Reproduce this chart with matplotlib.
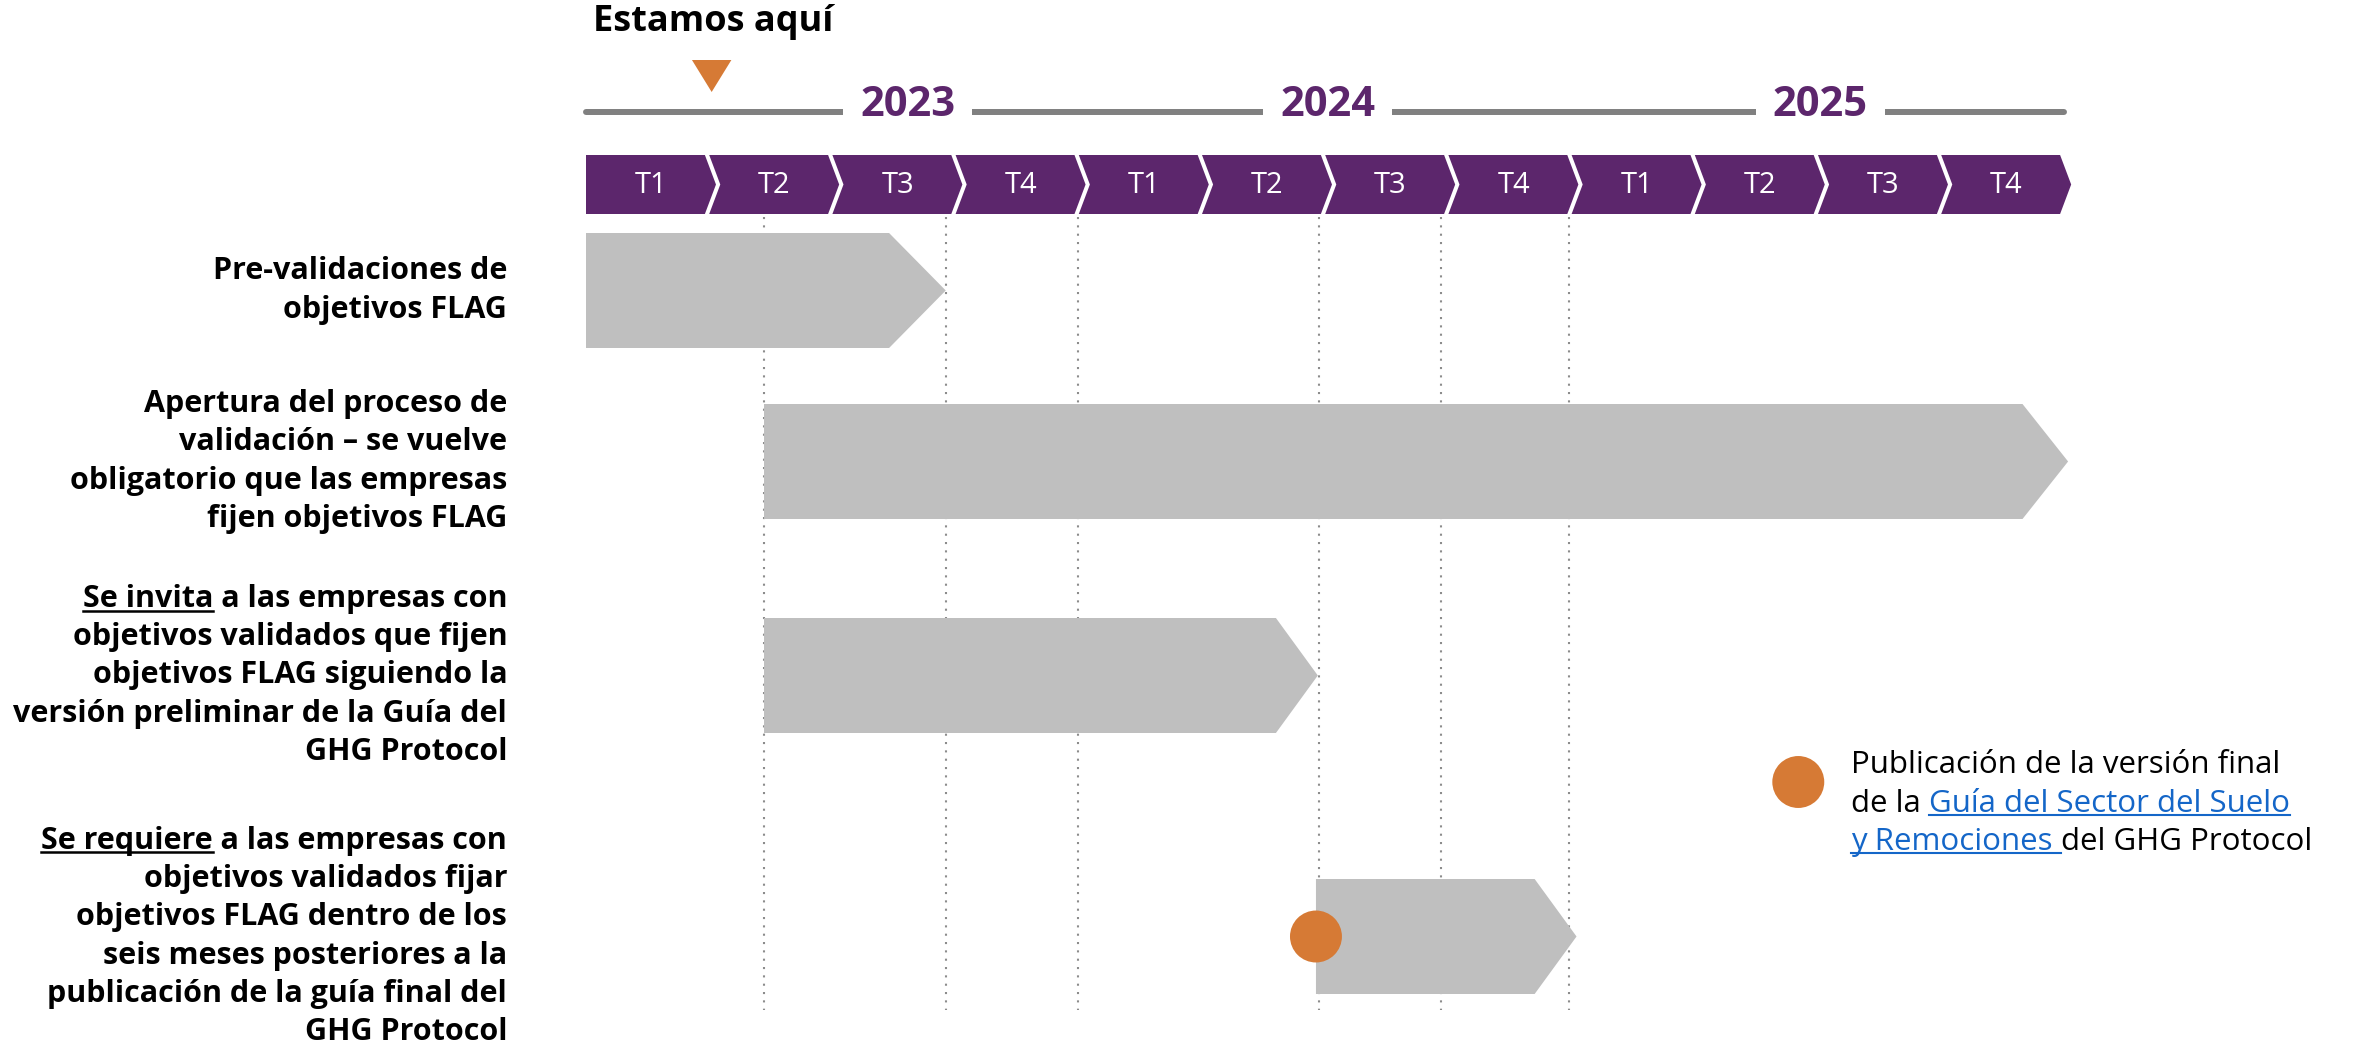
"""FLAG target timeline (2023-2025) recreated with matplotlib patches."""

import matplotlib
matplotlib.use("Agg")
import matplotlib.pyplot as plt
from matplotlib.patches import Polygon
from matplotlib.lines import Line2D

plt.rcParams["font.family"] = ["Open Sans", "DejaVu Sans"]

# ---- data -------------------------------------------------------------
years = ["2023", "2024", "2025"]
year_label_q = [2.61, 6.02, 10.02]       # where each year label sits (quarters)
quarters = ["T1", "T2", "T3", "T4"] * 3
now_q = 1.02                              # "Estamos aquí"

task_lines = [
    ["Pre-validaciones de", "objetivos FLAG"],
    ["Apertura del proceso de", "validación – se vuelve",
     "obligatorio que las empresas", "fijen objetivos FLAG"],
    ["Se invita a las empresas con", "objetivos validados que fijen",
     "objetivos FLAG siguiendo la", "versión preliminar de la Guía del",
     "GHG Protocol"],
    ["Se requiere a las empresas con", "objetivos validados fijar",
     "objetivos FLAG dentro de los", "seis meses posteriores a la",
     "publicación de la guía final del", "GHG Protocol"],
]
task_underline = [None, None, "Se invita", "Se requiere"]
task_start = [0.0, 1.445, 1.445, 5.925]
task_end = [2.92, 12.03, 5.94, 8.04]

guide_q = [1.445, 2.92, 3.99, 5.95, 6.94, 7.98]
milestone_q = 5.925
milestone_lines = [
    [("Publicación de la versión final", False)],
    [("de la ", False), ("Guía del Sector del Suelo", True)],
    [("y Remociones ", True), ("del GHG Protocol", False)],
]

# ---- style / layout ---------------------------------------------------
PURPLE = "#5C266C"
GREY_BAR = "#BFBFBF"
GREY_LINE = "#808080"
ORANGE = "#D67A35"
LINK = "#1466C8"

W, H = 2354, 1046
X0_PX, PX_PER_Q = 586, 123.2
row_y = [290.5, 461.5, 675.5, 936.5]
BAR_HALF = 57.5
tip_q = [0.46, 0.37, 0.34, 0.34]
LINE_STEP = 38.2
LABEL_X = -0.64
FS_LABEL = 22
FS_NOTE = 22.5

fig = plt.figure(figsize=(W / 100, H / 100), dpi=100)
ax = fig.add_axes([0, 0, 1, 1])
ax.set_xlim(-X0_PX / PX_PER_Q, (W - X0_PX) / PX_PER_Q)
ax.set_ylim(H, 0)
ax.axis("off")

# year line with white gaps behind the year labels
ax.plot([0, 12.0], [112, 112], color=GREY_LINE, lw=4.3,
        solid_capstyle="round", zorder=1)
for q, yr in zip(year_label_q, years):
    ax.text(q, 106, yr, ha="center", va="center", fontsize=30,
            fontweight="bold", color=PURPLE, zorder=2,
            bbox=dict(facecolor="white", edgecolor="none", pad=12))

# "Estamos aquí" marker
ax.text(0.06, 22, "Estamos aquí", ha="left", va="center", fontsize=26,
        fontweight="bold", color="black")
ax.add_patch(Polygon([(now_q - 0.16, 60), (now_q + 0.16, 60), (now_q, 92)],
                     closed=True, facecolor=ORANGE, edgecolor="none"))

# quarter chevrons
top, bot = 155, 214
mid = (top + bot) / 2
for i, lab in enumerate(quarters):
    pts = [(i, top), (i + 0.965, top), (i + 1.055, mid), (i + 0.965, bot),
           (i, bot)]
    if i > 0:
        pts.append((i + 0.09, mid))
    ax.add_patch(Polygon(pts, closed=True, facecolor=PURPLE, edgecolor="none",
                         zorder=2))
    ax.text(i + 0.53, mid + 1, lab, ha="center", va="center", fontsize=21,
            color="white", zorder=3)

# dotted guides
for q in guide_q:
    ax.plot([q, q], [217, 1010], color="#8C8C8C", lw=1.5,
            linestyle=(0, (1, 3)), zorder=1)

# task bars
for k, (s, e) in enumerate(zip(task_start, task_end)):
    yc = row_y[k]
    pts = [(s, yc - BAR_HALF), (e - tip_q[k], yc - BAR_HALF), (e, yc),
           (e - tip_q[k], yc + BAR_HALF), (s, yc + BAR_HALF)]
    ax.add_patch(Polygon(pts, closed=True, facecolor=GREY_BAR,
                         edgecolor="none", zorder=2))

# milestone dot
ax.scatter([milestone_q], [row_y[3]], s=37.4 ** 2, color=ORANGE,
           edgecolors="none", zorder=4)

# task labels
fig.canvas.draw()
renderer = fig.canvas.get_renderer()
inv = ax.transData.inverted()
for k, lines in enumerate(task_lines):
    n = len(lines)
    for j, line in enumerate(lines):
        y = row_y[k] + (j - (n - 1) / 2) * LINE_STEP
        t = ax.text(LABEL_X, y, line, ha="right", va="center",
                    fontsize=FS_LABEL, fontweight="bold", color="black")
        if j == 0 and task_underline[k]:
            bb = t.get_window_extent(renderer)
            probe = ax.text(0, 0, task_underline[k], fontsize=FS_LABEL,
                            fontweight="bold")
            w = probe.get_window_extent(renderer).width
            probe.remove()
            uy = bb.y0 + 0.12 * bb.height
            (x1, y1), (x2, _) = inv.transform([(bb.x0, uy), (bb.x0 + w, uy)])
            ax.add_line(Line2D([x1, x2], [y1, y1], color="black", lw=1.8))

# milestone legend
ax.scatter([9.84], [782], s=37.4 ** 2, color=ORANGE, edgecolors="none")
for j, parts in enumerate(milestone_lines):
    y = 765 + j * 38.5
    prev = None
    for txt, is_link in parts:
        col = LINK if is_link else "black"
        if prev is None:
            t = ax.text(10.27, y, txt, ha="left", va="center",
                        fontsize=FS_NOTE, color=col)
        else:
            t = ax.annotate(txt, xy=(1, 0), xycoords=prev, ha="left",
                            va="bottom", fontsize=FS_NOTE, color=col)
        fig.canvas.draw()
        if is_link:
            bb = t.get_window_extent(renderer)
            uy = bb.y0 + 0.12 * bb.height
            (x1, y1), (x2, _) = inv.transform([(bb.x0, uy), (bb.x1, uy)])
            ax.add_line(Line2D([x1, x2], [y1, y1], color=LINK, lw=1.5))
        prev = t

fig.savefig("out.png", dpi=100)
